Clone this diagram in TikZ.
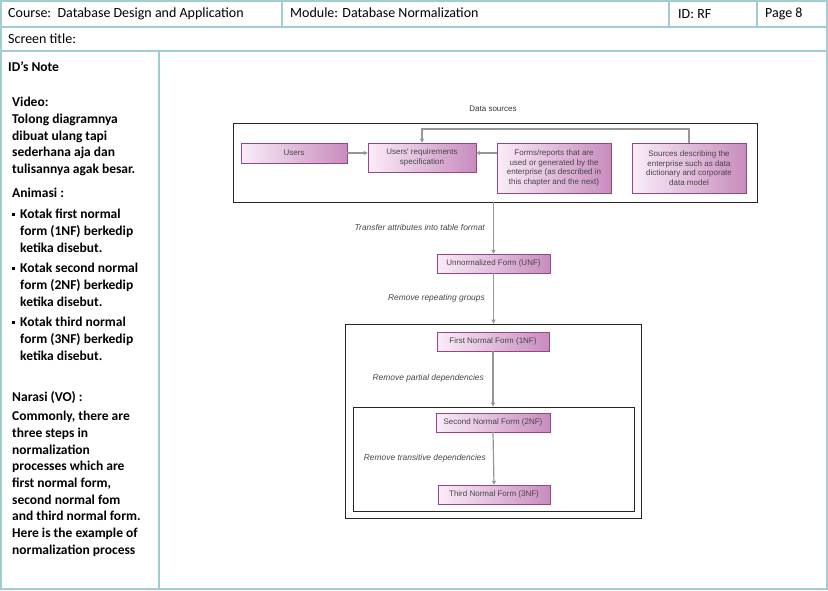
\documentclass[tikz,border=0pt]{standalone}
\usepackage{fontspec}
\setmainfont{Carlito}
\newfontfamily\diagfont{Liberation Sans}
\usetikzlibrary{arrows.meta}
\definecolor{gridblue}{RGB}{160,204,214}
\definecolor{boxedge}{RGB}{150,70,135}
\definecolor{boxleft}{RGB}{250,236,248}
\definecolor{boxright}{RGB}{200,140,190}
\definecolor{flowgray}{RGB}{150,150,150}
\definecolor{txtgray}{RGB}{70,70,70}
\tikzset{
    grid/.style={draw=gridblue, line width=1.6pt},
    head/.style={anchor=west, inner sep=0pt, font=\fontsize{14}{16}\selectfont},
    note/.style={anchor=north west, inner sep=0pt, align=left,
        font=\fontsize{13.5}{16.7}\selectfont\bfseries},
    form/.style={draw=boxedge, left color=boxleft, right color=boxright,
        thin, inner sep=1pt, align=center, text=txtgray,
        font=\diagfont\fontsize{8}{9.6}\selectfont},
    frame/.style={draw=black!85, thick, inner sep=0pt},
    step label/.style={inner sep=0pt, text=txtgray, anchor=east,
        font=\diagfont\itshape\fontsize{8.4}{10}\selectfont},
    flow/.style={draw=flowgray, line width=1.2pt,
        -{Triangle[length=4pt,width=4pt]}}
}
\newcommand{\sqbul}{\raisebox{2.5pt}{\rule{3pt}{3pt}}\hspace{5pt}}
\begin{document}
\begin{tikzpicture}[x=1pt,y=-1pt]
\useasboundingbox (0,0) rectangle (828,590);

% header table
\draw[grid] (1,1) rectangle (827,589);
\draw[grid] (1,27) -- (827,27);
\draw[grid] (1,51) -- (827,51);
\draw[grid] (282,1) -- (282,27);
\draw[grid] (669,1) -- (669,27);
\draw[grid] (757,1) -- (757,27);
\draw[grid] (159,51) -- (159,589);
\node[head] (course) at (8,14) {Course:\ \ Database Design and Application};
\node[head] (module) at (290,13) {Module: Database Normalization};
\node[head] (id) at (678,14) {ID: RF};
\node[head] (page) at (765,14) {Page 8};
\node[head] (title) at (8,39) {Screen title:};
\node[head, font=\fontsize{13.5}{16}\selectfont\bfseries] (idnote) at (8,67) {ID's Note};

% notes column
\node[note] (video) at (12,97) {Video:\\Tolong diagramnya\\dibuat ulang tapi\\sederhana aja dan\\tulisannya agak besar.};
\node[note] (anim) at (12,188) {Animasi :};
\node[note] (anim1) at (12,209) {\sqbul Kotak first normal\\\hspace{8pt}form (1NF) berkedip\\\hspace{8pt}ketika disebut.};
\node[note] (anim2) at (12,263) {\sqbul Kotak second normal\\\hspace{8pt}form (2NF) berkedip\\\hspace{8pt}ketika disebut.};
\node[note] (anim3) at (12,317) {\sqbul Kotak third normal\\\hspace{8pt}form (3NF) berkedip\\\hspace{8pt}ketika disebut.};
\node[note] (narasi) at (12,391) {Narasi (VO) :};
\node[note] (vo) at (12,411) {Commonly, there are\\three steps in\\normalization\\processes which are\\first normal form,\\second normal fom\\and third normal form.\\Here is the example of\\normalization process};

% data sources
\node[inner sep=0pt, text=black!80, font=\diagfont\fontsize{8}{9.6}\selectfont] (dslabel) at (493,109) {Data sources};
\node[frame, minimum width=524pt, minimum height=79pt] (srcbox) at (495,162.5) {};
\node[form, minimum width=106pt, minimum height=20pt] (users) at (294,153) {Users};
\node[form, minimum width=108pt, minimum height=29pt] (req) at (422,157.5) {Users' requirements\\specification};
\node[form, minimum width=114pt, minimum height=50pt] (forms) at (554,168) {Forms/reports that are\\used or generated by the\\enterprise (as described in\\this chapter and the next)};
\node[form, minimum width=114pt, minimum height=50pt] (sources) at (689,168) {Sources describing the\\enterprise such as data\\dictionary and corporate\\data model};
\coordinate (fb) at (689,129);
\draw[flow] (users.east) -- (users.east -| req.west);
\draw[flow] (forms.west |- users.east) -- (req.east |- users.east);
\draw[flow] (sources.north) -- (fb) -- (req.north |- fb) -- (req.north);

% normal forms
\node[form, minimum width=113pt, minimum height=19pt] (unf) at (493.5,263.5) {Unnormalized Form (UNF)};
\node[frame, minimum width=296pt, minimum height=194pt] (nfbox) at (493,421) {};
\node[form, minimum width=112pt, minimum height=19pt] (nf1) at (493,341.5) {First Normal Form (1NF)};
\node[frame, minimum width=281pt, minimum height=104pt] (nfbox2) at (493.5,459) {};
\node[form, minimum width=114pt, minimum height=19pt] (nf2) at (493,422.5) {Second Normal Form (2NF)};
\node[form, minimum width=112pt, minimum height=19pt] (nf3) at (494,494.5) {Third Normal Form (3NF)};

\draw[flow] (srcbox.south -| unf.north) -- (unf.north);
\draw[flow] (unf.south) -- (unf.south |- nfbox.north);
\draw[flow] (nf1.south) -- (nf1.south |- nfbox2.north);
\draw[flow] (nf2.south) -- (nf3.north);

\node[step label] (l1) at (485,227) {Transfer attributes into table format};
\node[step label] (l2) at (485,298) {Remove repeating groups};
\node[step label] (l3) at (484,378) {Remove partial dependencies};
\node[step label] (l4) at (486,458) {Remove transitive dependencies};
\end{tikzpicture}
\end{document}
